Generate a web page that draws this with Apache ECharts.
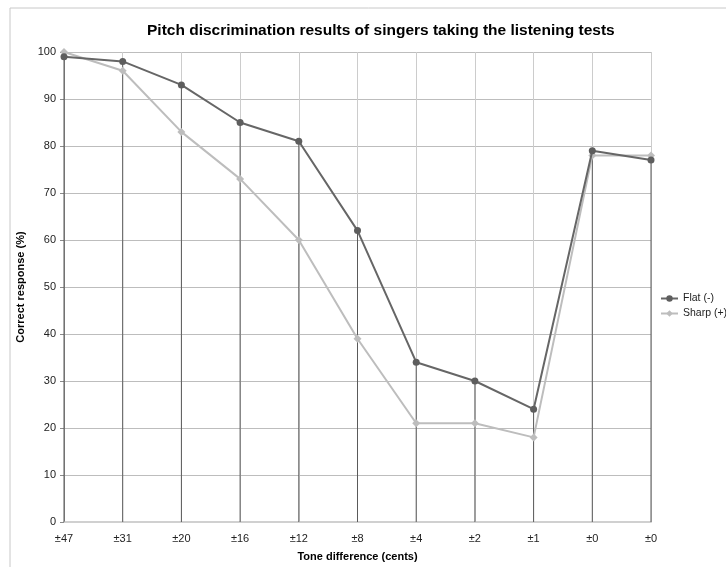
<!DOCTYPE html>
<html>
<head>
<meta charset="utf-8">
<script src="https://cdn.jsdelivr.net/npm/echarts@6/dist/echarts.min.js"></script>
<style>html,body{margin:0;padding:0;background:#fff;}#c{width:726px;height:567px;}</style>
</head>
<body>
<div id="c"></div>
<script>
const categories = ['±47', '±31', '±20', '±16', '±12', '±8', '±4', '±2', '±1', '±0', '±0'];
const flat = [99, 98, 93, 85, 81, 62, 34, 30, 24, 79, 77];
const sharp = [100, 96, 83, 73, 60, 39, 21, 21, 18, 78, 78];
const yTicks = { min: 0, max: 100, interval: 10 };

const FONT = '"Liberation Sans", Arial, Helvetica, sans-serif';
const chart = echarts.init(document.getElementById('c'));
chart.setOption({
  animation: false,
  backgroundColor: '#fff',
  textStyle: { fontFamily: FONT },
  graphic: [{
    type: 'rect', shape: { x: 10, y: 8, width: 800, height: 700 },
    style: { fill: 'none', stroke: '#c8c8c8', lineWidth: 1 }, silent: true, z: -10
  }],
  title: {
    text: 'Pitch discrimination results of singers taking the listening tests',
    left: 142, top: 18,
    textStyle: { fontFamily: FONT, fontSize: 15.5, fontWeight: 'bold', color: '#000' }
  },
  legend: {
    orient: 'vertical', left: 655, top: 288,
    itemWidth: 17, itemHeight: 8, itemGap: 4,
    data: ['Flat (-)', 'Sharp (+)'],
    textStyle: { fontFamily: FONT, fontSize: 10.5, color: '#222' }
  },
  grid: { left: 64, right: 75, top: 52, bottom: 41, containLabel: false },
  xAxis: {
    type: 'category', data: categories, boundaryGap: false,
    name: 'Tone difference (cents)', nameLocation: 'middle', nameGap: 29,
    nameTextStyle: { fontFamily: FONT, fontSize: 11, fontWeight: 'bold', color: '#000' },
    axisLine: { show: true, lineStyle: { color: '#d0d0d0', width: 2 } },
    axisTick: { show: false },
    axisLabel: { fontFamily: FONT, fontSize: 11, color: '#222', margin: 11, interval: 0 },
    splitLine: { show: true, lineStyle: { color: '#cccccc', width: 1 } }
  },
  yAxis: {
    type: 'value', min: yTicks.min, max: yTicks.max, interval: yTicks.interval,
    name: 'Correct response (%)', nameLocation: 'middle', nameGap: 34,
    nameTextStyle: { fontFamily: FONT, fontSize: 11, fontWeight: 'bold', color: '#000' },
    axisLine: { show: true, lineStyle: { color: '#8a8a8a', width: 1 } },
    axisTick: { show: true, length: 4, lineStyle: { color: '#8a8a8a' } },
    axisLabel: { fontFamily: FONT, fontSize: 11, color: '#222', margin: 8 },
    splitLine: { show: true, lineStyle: { color: '#bdbdbd', width: 1 } }
  },
  series: [
    {
      name: 'drop', type: 'bar', data: flat, barWidth: 1, silent: true,
      itemStyle: { color: '#5a5a5a' }, z: 1, legendHoverLink: false
    },
    {
      name: 'Sharp (+)', type: 'line', data: sharp,
      symbol: 'diamond', symbolSize: 8,
      lineStyle: { color: '#bdbdbd', width: 2 },
      itemStyle: { color: '#bdbdbd' }, z: 2
    },
    {
      name: 'Flat (-)', type: 'line', data: flat,
      symbol: 'circle', symbolSize: 7,
      lineStyle: { color: '#666666', width: 2 },
      itemStyle: { color: '#5e5e5e' }, z: 3
    }
  ]
});
</script>
</body>
</html>
